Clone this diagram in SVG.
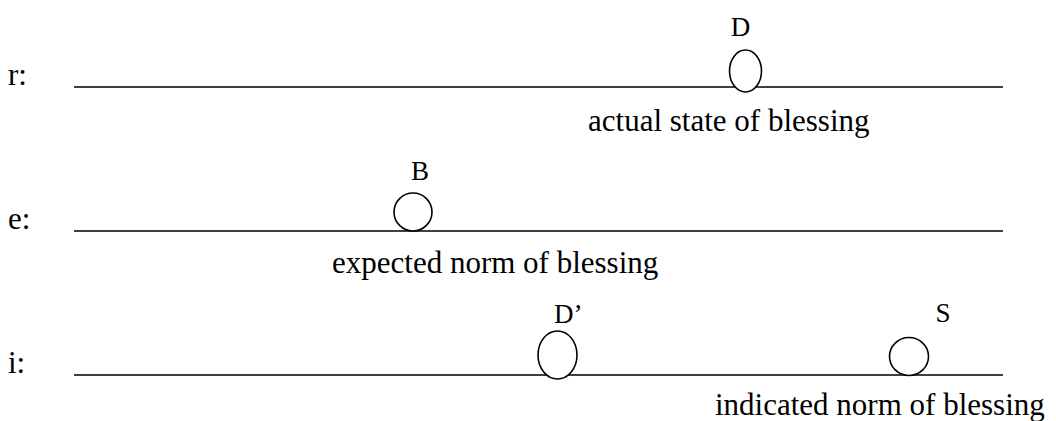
<svg xmlns="http://www.w3.org/2000/svg" width="1056" height="421" viewBox="0 0 1056 421">
<style>
.t{font-family:"Liberation Serif","Times New Roman",serif;fill:#000}
.lab{font-size:31px}
.let{font-size:27px}
.ln{stroke:#000;stroke-width:1.5;fill:none}
.el{stroke:#000;stroke-width:1.6;fill:#fff}
</style>
<rect width="1056" height="421" fill="#fff"/>
<g id="connectors">
<line class="ln" x1="74" y1="87" x2="1003" y2="87"/>
<line class="ln" x1="74" y1="231" x2="1003" y2="231"/>
<line class="ln" x1="74" y1="375" x2="1003" y2="375"/>
</g>
<g id="row-r">
<text class="t lab" x="8" y="85">r:</text>
<text class="t lab" x="588" y="131">actual state of blessing</text>
</g>
<g id="row-e">
<text class="t lab" x="8" y="229">e:</text>
<text class="t lab" x="332" y="273">expected norm of blessing</text>
</g>
<g id="row-i">
<text class="t lab" x="8" y="373">i:</text>
<text class="t lab" x="715" y="415">indicated norm of blessing</text>
</g>
<g id="node-D">
<ellipse class="el" cx="745.5" cy="71" rx="16" ry="21"/>
<text class="t let" x="740.5" y="36" text-anchor="middle">D</text>
</g>
<g id="node-B">
<ellipse class="el" cx="413" cy="212" rx="19" ry="19"/>
<text class="t let" x="420" y="180" text-anchor="middle">B</text>
</g>
<g id="node-Dprime">
<ellipse class="el" cx="557.5" cy="355" rx="19.5" ry="24"/>
<text class="t let" x="554" y="323">D’</text>
</g>
<g id="node-S">
<ellipse class="el" cx="909" cy="356.5" rx="19.5" ry="19"/>
<text class="t let" x="943" y="322" text-anchor="middle">S</text>
</g>
</svg>
